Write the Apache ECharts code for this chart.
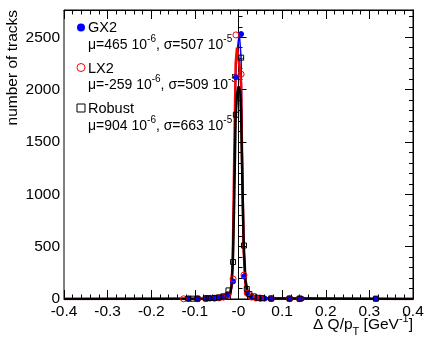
<!DOCTYPE html>
<html>
<head>
<meta charset="utf-8">
<script src="https://cdn.jsdelivr.net/npm/echarts@6/dist/echarts.min.js"></script>
<style>
  html, body { margin: 0; padding: 0; background: #fff; }
  #chart { width: 431px; height: 343px; }
</style>
</head>
<body>
<div id="chart"></div>
<script>
// histogram points [dQ/pT, tracks]
const gx2Points = [[-0.115,3],[-0.094,3],[-0.075,5],[-0.065,6],[-0.055,8],[-0.045,12],[-0.035,20],[-0.025,45],[-0.0125,168],[-0.006,2118],[0.006,2530],[0.0125,215],[0.02,60],[0.03,20],[0.04,10],[0.05,6],[0.06,4],[0.075,3],[0.117,3],[0.14,4],[0.145,3],[0.315,2]];
const lx2Points = [[-0.126,2],[-0.094,3],[-0.075,4],[-0.055,7],[-0.045,10],[-0.035,18],[-0.025,40],[-0.0125,191],[-0.006,2522],[0.006,2147],[0.0125,229],[0.02,55],[0.03,18],[0.04,9],[0.05,6],[0.075,3],[0.117,3],[0.14,3]];
const robustPoints = [[-0.115,4],[-0.105,3],[-0.094,3],[-0.075,6],[-0.068,8],[-0.055,10],[-0.045,15],[-0.035,25],[-0.023,82],[-0.0125,353],[-0.006,1760],[0.006,2305],[0.0125,511],[0.019,95],[0.025,48],[0.035,25],[0.045,12],[0.055,8],[0.075,5],[0.117,4],[0.14,3],[0.315,3]];

// fit curves
const gx2Fit = [[-0.4,0],[-0.03,3],[-0.02,20],[-0.016,100],[-0.013,380],[-0.01,1200],[-0.0065,2120],[-0.0035,2350],[0,2480],[0.002,2530],[0.004,2540],[0.006,2300],[0.009,1300],[0.012,500],[0.016,150],[0.02,50],[0.025,15],[0.03,4],[0.4,0]];
const lx2Fit = [[-0.4,0],[-0.03,3],[-0.02,25],[-0.016,120],[-0.013,420],[-0.01,1300],[-0.0065,2250],[-0.0035,2400],[0,2300],[0.003,2200],[0.006,2050],[0.009,1100],[0.012,450],[0.016,130],[0.02,40],[0.025,12],[0.03,4],[0.4,0]];
const robustFit = [[-0.4,0],[-0.03,5],[-0.02,30],[-0.016,130],[-0.013,350],[-0.01,900],[-0.0065,1740],[-0.0035,1950],[0,2030],[0.002,2035],[0.004,1980],[0.006,1750],[0.009,1100],[0.012,510],[0.016,180],[0.02,90],[0.025,30],[0.03,8],[0.4,0]];

const legendNames = ['GX2', 'LX2', 'Robust'];
const legendStats = [['465', '-6', '507', '-5'], ['-259', '-6', '509', '-5'], ['904', '-6', '663', '-5']];

const FONT = 'Liberation Sans';
const chart = echarts.init(document.getElementById('chart'));

const tickCol = { color: '#000', width: 1 };
function xAx(pos, showLabel) {
  return {
    type: 'value', min: -0.4, max: 0.4, interval: 0.1, position: pos,
    axisLine: { show: true, onZero: false, lineStyle: tickCol },
    axisTick: { show: true, inside: true, length: 9, lineStyle: tickCol },
    minorTick: { show: true, splitNumber: 5, length: 4.5, lineStyle: tickCol },
    splitLine: { show: false },
    axisLabel: {
      show: showLabel, margin: 5, color: '#000', fontFamily: FONT, fontSize: 15.5,
      formatter: v => Math.abs(v) < 1e-9 ? '-0' : v.toFixed(1)
    }
  };
}
function yAx(pos, interval, len, showLabel) {
  return {
    type: 'value', min: 0, max: 2760, interval: interval, position: pos,
    axisLine: { show: true, lineStyle: tickCol },
    axisTick: { show: true, inside: true, length: len, lineStyle: tickCol },
    splitLine: { show: false },
    axisLabel: {
      show: showLabel, showMaxLabel: false, margin: 4, color: '#000', fontFamily: FONT, fontSize: 15.5,
      formatter: v => String(Math.round(v))
    }
  };
}

const graphics = [];
const markers = [
  { type: 'circle', shape: { cx: 81, cy: 27.5, r: 4 }, style: { fill: '#0000ff' } },
  { type: 'circle', shape: { cx: 81, cy: 67.5, r: 4 }, style: { fill: 'none', stroke: '#ff0000', lineWidth: 1 } },
  { type: 'rect', shape: { x: 77, y: 104, width: 8, height: 8 }, style: { fill: 'none', stroke: '#000', lineWidth: 1 } }
];
const rich = {
  a: { fontFamily: FONT, fontSize: 14, lineHeight: 22, fill: '#000', verticalAlign: 'middle' },
  b: { fontFamily: FONT, fontSize: 10, fill: '#000', verticalAlign: 'top' }
};
legendNames.forEach((n, i) => {
  const y0 = 28 + i * 40.5;
  graphics.push(markers[i]);
  graphics.push({ type: 'text', x: 88, y: y0,
    style: { text: n, font: '14.5px ' + FONT, fill: '#000', verticalAlign: 'middle', textVerticalAlign: 'middle' } });
  const s = legendStats[i];
  graphics.push({ type: 'text', x: 88, y: y0 + 17,
    style: { text: `{a|\u03bc=${s[0]} 10}{b|${s[1]}}{a|, \u03c3=${s[2]} 10}{b|${s[3]}}`, rich: rich,
      verticalAlign: 'middle', textVerticalAlign: 'middle' } });
});
// axis titles
graphics.push({ type: 'text', x: 413, y: 325,
  style: { text: '{a|\u0394 Q/p}{s|T}{a| [GeV}{b|-1}{a|]}', align: 'right', textAlign: 'right',
    verticalAlign: 'middle', textVerticalAlign: 'middle',
    rich: {
      a: { fontFamily: FONT, fontSize: 15.5, lineHeight: 24, fill: '#000', verticalAlign: 'middle' },
      b: { fontFamily: FONT, fontSize: 11, fill: '#000', verticalAlign: 'top' },
      s: { fontFamily: FONT, fontSize: 11, fill: '#000', verticalAlign: 'bottom' }
    } } });
graphics.push({ type: 'text', x: 13, y: 10, rotation: Math.PI / 2,
  style: { text: 'number of tracks', font: '15.5px ' + FONT, fill: '#000',
    align: 'right', textAlign: 'right', verticalAlign: 'middle', textVerticalAlign: 'middle' } });

function fitLine(name, data, color, width) {
  return { name: name, type: 'line', data: data, showSymbol: false, symbol: 'none',
    lineStyle: { color: color, width: width }, itemStyle: { color: color }, z: 3, silent: true };
}
function pts(name, data, symbol, fill, stroke, size) {
  return { name: name, type: 'scatter', data: data, symbol: symbol, symbolSize: size,
    itemStyle: { color: fill, borderColor: stroke, borderWidth: 1, opacity: 1 }, z: 4 };
}

chart.setOption({
  animation: false,
  backgroundColor: '#fff',
  grid: { left: 64, right: 18, top: 10, bottom: 44, show: true, borderColor: '#000', borderWidth: 1, backgroundColor: '#fff' },
  xAxis: [xAx('bottom', true), xAx('top', false)],
  yAxis: [yAx('left', 500, 8, true), yAx('left', 100, 4, false), yAx('right', 500, 8, false), yAx('right', 100, 4, false)],
  series: [
    fitLine('GX2 fit', gx2Fit, '#0000ff', 1.5),
    fitLine('LX2 fit', lx2Fit, '#ff0000', 2.5),
    fitLine('Robust fit', robustFit, '#000000', 2.5),
    pts('GX2', gx2Points, 'circle', '#0000ff', '#0000ff', 5),
    pts('LX2', lx2Points, 'circle', 'rgba(0,0,0,0)', '#ff0000', 6),
    pts('Robust', robustPoints, 'rect', 'rgba(0,0,0,0)', '#000000', 5)
  ],
  graphic: graphics
});
</script>
</body>
</html>
